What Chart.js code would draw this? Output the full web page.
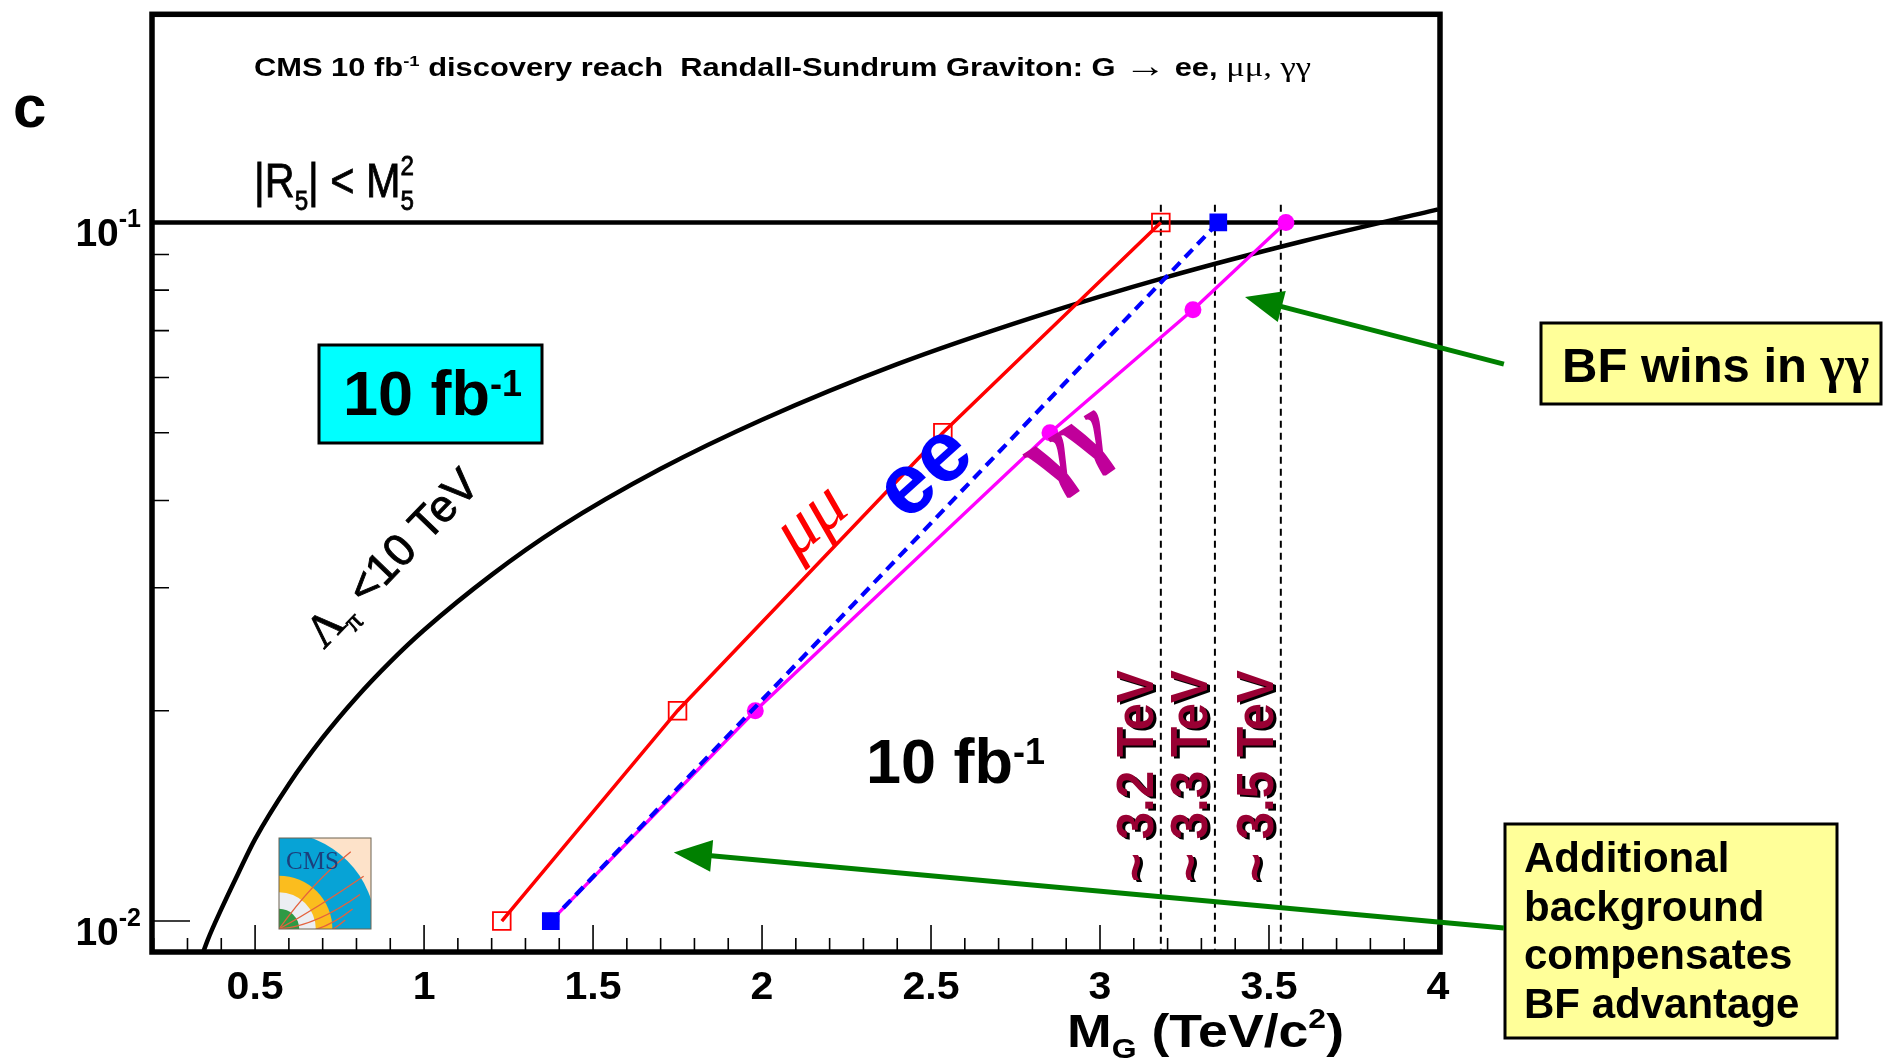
<!DOCTYPE html>
<html>
<head>
<meta charset="utf-8">
<title>RS graviton discovery reach</title>
<script src="https://cdn.jsdelivr.net/npm/chart.js@4.4.1/dist/chart.umd.min.js"></script>
<style>
  html, body { margin: 0; padding: 0; background: #fff; }
  #wrap { width: 1887px; height: 1060px; position: relative; }
</style>
</head>
<body>
<div id="wrap"><canvas id="reachChart"></canvas></div>
<script>
// discovery reach for 10 fb^-1, coupling k/M_Pl vs graviton mass (TeV)
const mumuMass = [1.23, 1.75, 2.535, 3.18]
const mumuCoupling = [0.01, 0.02, 0.05, 0.1]
const eeMass = [1.375, 3.35]
const eeCoupling = [0.01, 0.1]
const gamMass = [1.375, 1.98, 2.852, 3.275, 3.55]
const gamCoupling = [0.01, 0.02, 0.05, 0.075, 0.1]

// Lambda_pi < 10 TeV boundary
const lambdaMass = [0.331, 0.36, 0.4, 0.45, 0.5, 0.6, 0.7, 0.8, 0.9, 1.0, 1.2, 1.4, 1.7, 2.0, 2.4, 2.8, 3.2, 3.6, 4.0]
const lambdaCoupling = [0.0086, 0.0094, 0.0104, 0.0117, 0.0131, 0.0157, 0.0183, 0.0209, 0.0235, 0.0261, 0.0313, 0.0366, 0.0444, 0.0522, 0.0627, 0.0731, 0.0836, 0.094, 0.1044]

// |R5| < M5^2 limit
const r5Coupling = 0.1

// reach markers
const reachMass = [3.18, 3.34, 3.535]
const reachLabels = ['~ 3.2 TeV', '~ 3.3 TeV', '~ 3.5 TeV']

const xTicks = [0.5, 1, 1.5, 2, 2.5, 3, 3.5, 4]
const xTickLabels = ['0.5', '1', '1.5', '2', '2.5', '3', '3.5', '4']
const yTicks = [0.1, 0.01]
const yTickExp = ['-1', '-2']

const xMin = 0.195, xMax = 4.006
const yMin = 0.00903, yMax = 0.1986

const SANS = '"Liberation Sans", Arial, sans-serif'
const SERIF = '"Liberation Serif", "Times New Roman", serif'

const pts = (xs, ys) => xs.map((x, i) => ({ x: x, y: ys[i] }))

// text made of pieces with own fonts; optional squeeze to a width
function drawRich(ctx, parts, x, y, o) {
	o = o || {}
	ctx.save()
	ctx.translate(x, y)
	if (o.rot) ctx.rotate(o.rot * Math.PI / 180)
	let w = 0
	parts.forEach(function(p) {
		ctx.font = p.f
		p.w = ctx.measureText(p.t).width
		if (!p.keep) w += p.w
	})
	const sx = o.width ? o.width / w : (o.sx || 1)
	ctx.scale(sx, 1)
	if (o.shadow) {
		ctx.shadowColor = o.shadow
		ctx.shadowOffsetX = o.shx || 2
		ctx.shadowOffsetY = o.shy || 2
		ctx.shadowBlur = 0
	}
	let cx = o.align === 'center' ? -w / 2 : o.align === 'right' ? -w : 0
	ctx.textAlign = 'left'
	ctx.textBaseline = 'alphabetic'
	parts.forEach(function(p) {
		ctx.font = p.f
		ctx.fillStyle = p.c || o.color || '#000'
		ctx.fillText(p.t, cx, (p.dy || 0) + (o.vy || 0))
		if (o.stroke) {
			ctx.lineWidth = o.stroke
			ctx.strokeStyle = p.c || o.color || '#000'
			ctx.strokeText(p.t, cx, (p.dy || 0) + (o.vy || 0))
		}
		if (!p.keep) cx += p.w
	})
	ctx.restore()
}

function arrow(ctx, x0, y0, x1, y1) {
	const ang = Math.atan2(y1 - y0, x1 - x0)
	const len = 38, half = 16
	const bx = x1 - len * Math.cos(ang), by = y1 - len * Math.sin(ang)
	ctx.save()
	ctx.strokeStyle = '#008000'
	ctx.fillStyle = '#008000'
	ctx.lineWidth = 5
	ctx.beginPath()
	ctx.moveTo(x0, y0)
	ctx.lineTo(bx + 6 * Math.cos(ang), by + 6 * Math.sin(ang))
	ctx.stroke()
	ctx.beginPath()
	ctx.moveTo(x1, y1)
	ctx.lineTo(bx - half * Math.sin(ang), by + half * Math.cos(ang))
	ctx.lineTo(bx + half * Math.sin(ang), by - half * Math.cos(ang))
	ctx.closePath()
	ctx.fill()
	ctx.restore()
}

function cmsLogo(ctx, x, y, w, h) {
	ctx.save()
	ctx.beginPath()
	ctx.rect(x, y, w, h)
	ctx.clip()
	ctx.fillStyle = '#fde2c9'
	ctx.fillRect(x, y, w, h)
	const ox = x, oy = y + h
	const wedge = function(r, col) {
		ctx.beginPath()
		ctx.moveTo(ox, oy)
		ctx.arc(ox, oy, r, -Math.PI / 2, 0)
		ctx.closePath()
		ctx.fillStyle = col
		ctx.fill()
	}
	wedge(w * 1.05, '#07a3d6')
	wedge(w * 0.58, '#fbbd1e')
	wedge(w * 0.40, '#eceef3')
	wedge(w * 0.22, '#2e9a45')
	ctx.strokeStyle = '#e4623e'
	ctx.lineWidth = 1.3
	const ends = [[0.78, 0.15], [0.92, 0.42], [0.88, 0.62], [0.8, 0.78], [0.72, 0.9]]
	ends.forEach(function(e) {
		ctx.beginPath()
		ctx.moveTo(ox, oy)
		ctx.quadraticCurveTo(x + w * e[0] * 0.45, y + h * (e[1] + 0.35), x + w * e[0], y + h * e[1])
		ctx.stroke()
	})
	ctx.fillStyle = '#1c3f7c'
	ctx.font = '25px ' + SERIF
	ctx.fillText('CMS', x + 7, y + 31)
	ctx.restore()
	ctx.strokeStyle = '#6d6250'
	ctx.lineWidth = 1
	ctx.strokeRect(x, y, w, h)
}

const decor = {
	id: 'decor',
	afterDatasetsDraw(chart) {
		const ctx = chart.ctx
		const a = chart.chartArea
		const px = v => chart.scales.x.getPixelForValue(v)
		const py = v => chart.scales.y.getPixelForValue(v)

		// CMS logo in the lower left corner
		cmsLogo(ctx, a.left + 127, a.bottom - 114, 92, 91)

		// inward ticks
		ctx.save()
		ctx.strokeStyle = '#000'
		ctx.lineWidth = 1.6
		ctx.beginPath()
		for (let i = 2; i <= 40; i++) {
			const X = px(i / 10)
			const len = i % 5 === 0 ? 27 : 14
			ctx.moveTo(X, a.bottom)
			ctx.lineTo(X, a.bottom - len)
		}
		for (let d = -3; d <= 0; d++) {
			for (let m = 1; m <= 9; m++) {
				const v = m * Math.pow(10, d)
				if (v < yMin || v > yMax) continue
				const Y = py(v)
				ctx.moveTo(a.left, Y)
				ctx.lineTo(a.left + (m === 1 ? 38 : 17), Y)
			}
		}
		ctx.stroke()
		// frame
		ctx.lineWidth = 5.5
		ctx.strokeRect(a.left, a.top, a.right - a.left, a.bottom - a.top)
		ctx.restore()

		// tick labels
		xTicks.forEach(function(v, i) {
			drawRich(ctx, [{ t: xTickLabels[i], f: 'bold 38px ' + SANS }], px(v), 999, { align: 'center', sx: 1.08 })
		})
		yTicks.forEach(function(v, i) {
			drawRich(ctx, [
				{ t: '10', f: 'bold 39px ' + SANS },
				{ t: yTickExp[i], f: 'bold 25px ' + SANS, dy: -19 }
			], 141, py(v) + 24, { align: 'right' })
		})

		// axis title
		drawRich(ctx, [
			{ t: 'M', f: 'bold 47px ' + SANS },
			{ t: 'G', f: 'bold 28px ' + SANS, dy: 11 },
			{ t: ' (TeV/c', f: 'bold 47px ' + SANS },
			{ t: '2', f: 'bold 28px ' + SANS, dy: -19 },
			{ t: ')', f: 'bold 47px ' + SANS }
		], 1067, 1047, { width: 277 })

		// header
		drawRich(ctx, [
			{ t: 'CMS 10 fb', f: 'bold 25px ' + SANS },
			{ t: '-1', f: 'bold 15px ' + SANS, dy: -10 },
			{ t: ' discovery reach  Randall-Sundrum Graviton: G ', f: 'bold 25px ' + SANS },
			{ t: '\u2192', f: '34px ' + SANS, dy: 1 },
			{ t: ' ee, ', f: 'bold 25px ' + SANS },
			{ t: '\u03bc\u03bc, \u03b3\u03b3', f: '28px ' + SERIF }
		], 254, 76, { width: 1057 })
		drawRich(ctx, [{ t: 'c', f: 'bold 60px ' + SANS }], 13, 127)

		// |R5| < M5^2
		drawRich(ctx, [
			{ t: '|R', f: '48px ' + SANS },
			{ t: '5', f: '28px ' + SANS, dy: 13 },
			{ t: '| < M', f: '48px ' + SANS },
			{ t: '2', f: '28px ' + SANS, dy: -22, keep: true },
			{ t: '5', f: '28px ' + SANS, dy: 13 }
		], 254, 197, { width: 160, stroke: 0.8 })

		// luminosity labels
		ctx.save()
		ctx.fillStyle = '#00ffff'
		ctx.fillRect(319, 345, 223, 98)
		ctx.strokeStyle = '#000'
		ctx.lineWidth = 3
		ctx.strokeRect(319, 345, 223, 98)
		ctx.restore()
		const lumi = [
			{ t: '10 fb', f: 'bold 63px ' + SANS },
			{ t: '-1', f: 'bold 36px ' + SANS, dy: -19 }
		]
		drawRich(ctx, lumi, 343, 415)
		drawRich(ctx, lumi, 866, 783)

		// curve labels
		drawRich(ctx, [
			{ t: '\u039b', f: '46px ' + SERIF },
			{ t: '\u03c0', f: '28px ' + SERIF, dy: 10 },
			{ t: ' <10 TeV', f: '45px ' + SANS }
		], px(0.905), py(0.0331), { align: 'center', rot: -46, vy: 15, stroke: 0.9 })
		drawRich(ctx, [{ t: '\u03bc\u03bc', f: 'italic 72px ' + SERIF }], px(2.148), py(0.0373),
			{ align: 'center', rot: -40, vy: 18, color: '#ff0000' })
		drawRich(ctx, [{ t: 'ee', f: 'bold 86px ' + SANS }], px(2.488), py(0.0436),
			{ align: 'center', rot: -42, vy: 22, color: '#0000ff' })
		drawRich(ctx, [{ t: '\u03b3\u03b3', f: 'bold 90px ' + SERIF }], px(2.923), py(0.0464),
			{ align: 'center', rot: -32, vy: 14, color: '#c0009a', stroke: 1.5 })

		// reach values along the dashed lines
		reachMass.forEach(function(m, i) {
			drawRich(ctx, [{ t: reachLabels[i], f: 'bold 51px ' + SANS }], px(m) - 8, 882,
				{ rot: -90, width: 212, color: '#990033', shadow: '#000', shx: 3, shy: 2 })
		})

		// comment boxes
		ctx.save()
		ctx.fillStyle = '#ffff99'
		ctx.strokeStyle = '#000'
		ctx.lineWidth = 3
		ctx.fillRect(1541, 323, 340, 81)
		ctx.strokeRect(1541, 323, 340, 81)
		ctx.fillRect(1505, 824, 332, 214)
		ctx.strokeRect(1505, 824, 332, 214)
		ctx.restore()
		drawRich(ctx, [
			{ t: 'BF wins in ', f: 'bold 49px ' + SANS },
			{ t: '\u03b3\u03b3', f: 'bold 52px ' + SERIF }
		], 1562, 382)
		const note = ['Additional', 'background', 'compensates', 'BF advantage']
		note.forEach(function(s, i) {
			drawRich(ctx, [{ t: s, f: 'bold 42px ' + SANS }], 1524, 872 + i * 48.7)
		})

		arrow(ctx, px(4.195), py(0.0627), px(3.429), py(0.0782))
		arrow(ctx, px(4.195), py(0.00977), px(1.739), py(0.01254))
	}
}

const datasets = [
	{
		label: 'ee',
		data: pts(eeMass, eeCoupling),
		borderColor: '#0000ff',
		borderWidth: 4.2,
		borderDash: [11, 7],
		pointStyle: 'rect',
		pointRadius: 12.5,
		pointBackgroundColor: '#0000ff',
		pointBorderColor: '#0000ff',
		pointBorderWidth: 0,
		order: 1,
	},
	{
		label: 'gammagamma',
		data: pts(gamMass, gamCoupling),
		borderColor: '#ff00ff',
		borderWidth: 3.3,
		pointStyle: 'circle',
		pointRadius: 8.5,
		pointBackgroundColor: '#ff00ff',
		pointBorderColor: '#ff00ff',
		pointBorderWidth: 0,
		order: 2,
	},
	{
		label: 'mumu',
		data: pts(mumuMass, mumuCoupling),
		borderColor: '#ff0000',
		borderWidth: 3.5,
		pointStyle: 'rect',
		pointRadius: 12.5,
		pointBackgroundColor: 'rgba(0,0,0,0)',
		pointBorderColor: '#ff0000',
		pointBorderWidth: 1.8,
		order: 3,
	},
	{
		label: 'lambda',
		data: pts(lambdaMass, lambdaCoupling),
		borderColor: '#000',
		borderWidth: 4.5,
		pointRadius: 0,
		cubicInterpolationMode: 'monotone',
		order: 4,
	},
	{
		label: 'R5',
		data: [{ x: xMin, y: r5Coupling }, { x: xMax, y: r5Coupling }],
		borderColor: '#000',
		borderWidth: 4.6,
		pointRadius: 0,
		order: 5,
	},
]
reachMass.forEach(function(m) {
	datasets.push({
		label: 'reach ' + m,
		data: [{ x: m, y: 0.106 }, { x: m, y: 0.009 }],
		borderColor: '#000',
		borderWidth: 2,
		borderDash: [7, 5],
		pointRadius: 0,
		order: 6,
	})
})

window.onload = function() {
	const chartCtx = document.getElementById('reachChart').getContext('2d')
	window.reachChart = new Chart(chartCtx, {
		type: 'line',
		data: { datasets: datasets },
		options: {
			responsive: true,
			maintainAspectRatio: false,
			animation: false,
			layout: { padding: { left: 152, top: 11, right: 447, bottom: 108 } },
			plugins: {
				legend: { display: false },
				tooltip: { enabled: false },
			},
			scales: {
				x: { type: 'linear', min: xMin, max: xMax, bounds: 'data', display: false },
				y: { type: 'logarithmic', min: yMin, max: yMax, bounds: 'data', display: false },
			},
		},
		plugins: [decor],
	})
}
</script>
</body>
</html>
